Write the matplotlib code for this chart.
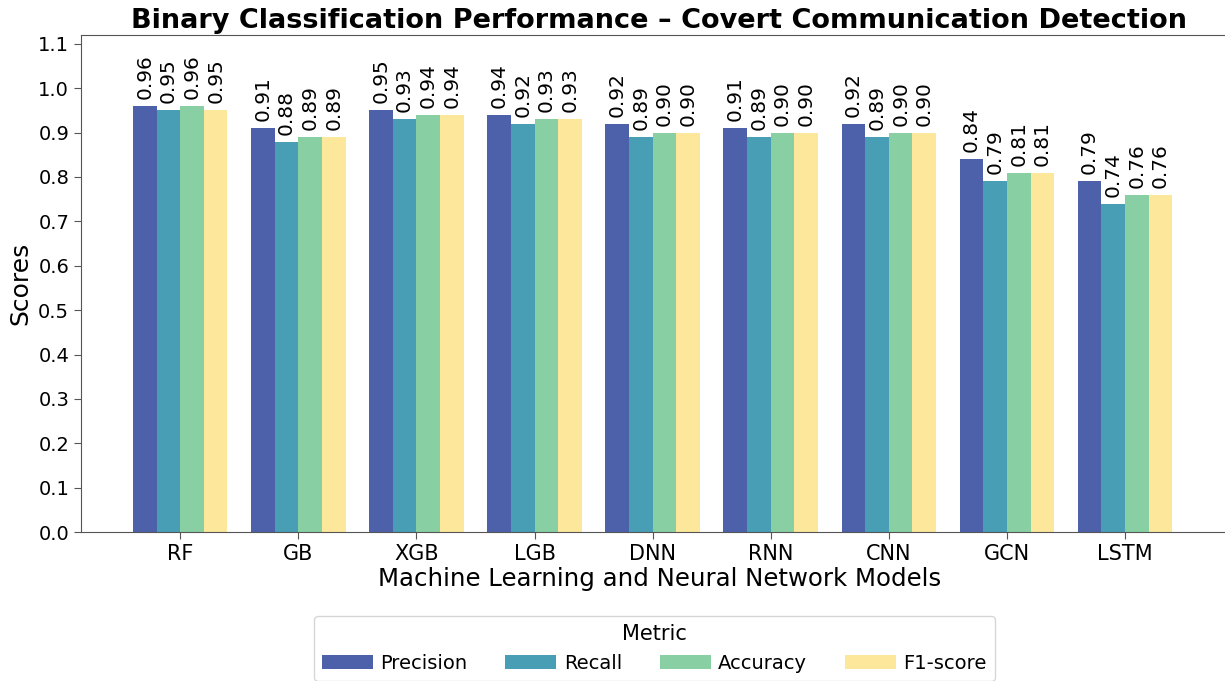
import numpy as np
import matplotlib
matplotlib.use("Agg")
import matplotlib.pyplot as plt

models = ["RF", "GB", "XGB", "LGB", "DNN", "RNN", "CNN", "GCN", "LSTM"]
metrics = ["Precision", "Recall", "Accuracy", "F1-score"]
precision = [0.96, 0.91, 0.95, 0.94, 0.92, 0.91, 0.92, 0.84, 0.79]
recall = [0.95, 0.88, 0.93, 0.92, 0.89, 0.89, 0.89, 0.79, 0.74]
accuracy = [0.96, 0.89, 0.94, 0.93, 0.90, 0.90, 0.90, 0.81, 0.76]
f1_score = [0.95, 0.89, 0.94, 0.93, 0.90, 0.90, 0.90, 0.81, 0.76]
colors = ["#4C61AA", "#479EB5", "#88D0A4", "#FDE79B"]

series = [precision, recall, accuracy, f1_score]

fig = plt.figure(figsize=(12.25, 6.81), dpi=100)
ax = fig.add_axes([81 / 1225, 1 - 532 / 681, (1225 - 81) / 1225 + 0.01, (532 - 35) / 681])

x = np.arange(len(models))
width = 0.2
for i, (name, vals) in enumerate(zip(metrics, series)):
    bars = ax.bar(x + (i - 1.5) * width, vals, width, label=name, color=colors[i])
    ax.bar_label(bars, labels=[f"{v:.2f}" for v in vals], rotation=90,
                 padding=5, fontsize=14.5)

ax.set_xticks(x)
ax.set_xticklabels(models, fontsize=15)
ax.set_yticks(np.arange(0, 1.11, 0.1))
ax.set_yticklabels([f"{v:.1f}" for v in np.arange(0, 1.11, 0.1)], fontsize=14)
ax.set_xlim(-0.84, 8.95)
ax.set_ylim(0, 1.12)
for s in ax.spines.values():
    s.set_color("#555555")
ax.tick_params(colors="#555555", labelcolor="black", length=5)

ax.set_title("Binary Classification Performance \u2013 Covert Communication Detection",
             fontsize=19.5, fontweight="bold", pad=5)
ax.set_xlabel("Machine Learning and Neural Network Models", fontsize=17.6, labelpad=2)
ax.set_ylabel("Scores", fontsize=18)

leg = ax.legend(title="Metric", loc="upper center", bbox_to_anchor=(0.496, -0.15),
                ncol=4, fontsize=14, title_fontsize=15, frameon=True,
                handlelength=2.6, handletextpad=0.4, columnspacing=1.95)

fig.savefig("out.png", dpi=100)
